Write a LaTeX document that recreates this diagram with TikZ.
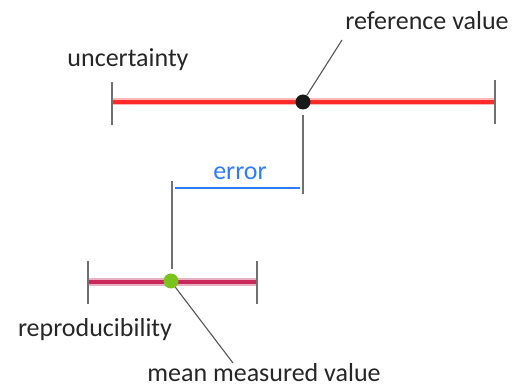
\documentclass[tikz,border=0pt]{standalone}
\usepackage{fontspec}
\setmainfont{Carlito}
\definecolor{barred}{HTML}{FF2A2A}
\definecolor{barredglow}{HTML}{FFB8B8}
\definecolor{barcrim}{HTML}{C8285A}
\definecolor{barcrimglow}{HTML}{EAB0C2}
\definecolor{tickgray}{HTML}{707070}
\definecolor{leadgray}{HTML}{555555}
\definecolor{errblue}{HTML}{2F7BFF}
\definecolor{dotgreen}{HTML}{7CC21C}
\tikzset{
  lbl/.style={font=\fontsize{26}{30}\selectfont, text=black!85, inner sep=0pt},
  tickline/.style={draw=tickgray, line width=1.6pt},
  leader/.style={draw=leadgray, line width=1.1pt},
  dotnode/.style={circle, inner sep=0pt, minimum size=15pt}
}
\begin{document}
\begin{tikzpicture}[x=1pt, y=-1pt]
\useasboundingbox (0,0) rectangle (523,387);
% top bar (uncertainty)
\coordinate (tl) at (112,102);
\coordinate (tr) at (495,102);
\draw[barredglow, line width=7pt] (tl) -- (tr);
\draw[barred, line width=3.6pt] (tl) -- (tr);
\draw[tickline] (112,82) -- (112,125);
\draw[tickline] (495,80) -- (495,124);
\node[dotnode, fill=black!90] (ref) at (303,102) {};
% bottom bar (reproducibility)
\coordinate (bl) at (88,282);
\coordinate (br) at (257,282);
\draw[barcrimglow, line width=8pt] (bl) -- (br);
\draw[barcrim, line width=4.2pt] (bl) -- (br);
\draw[tickline] (88,261) -- (88,304);
\draw[tickline] (257,261) -- (257,304);
\node[dotnode, fill=dotgreen] (mean) at (171,281) {};
% error bracket
\coordinate (er1) at (303,115);
\coordinate (er2) at (303,194);
\coordinate (el1) at (172,181);
\coordinate (el2) at (172,269);
\draw[tickline] (er1) -- (er2);
\draw[tickline] (el1) -- (el2);
\coordinate (b1) at (175,188);
\coordinate (b2) at (300,188);
\draw[errblue, line width=1.6pt] (b1) -- (b2);
\node[lbl, text=errblue] (err) at (240,173) {error};
% labels
\node[lbl] (unc) at (128,60) {uncertainty};
\node[lbl] (refl) at (427,21) {reference value};
\node[lbl] (repro) at (95,330) {reproducibility};
\node[lbl, anchor=base] (meanl) at (264,382) {mean measured value};
\coordinate (rl) at (342,40);
\coordinate (ml) at (233,363);
\draw[leader] (ref.60) -- (rl);
\draw[leader] (mean.-55) -- (ml);
\end{tikzpicture}
\end{document}
